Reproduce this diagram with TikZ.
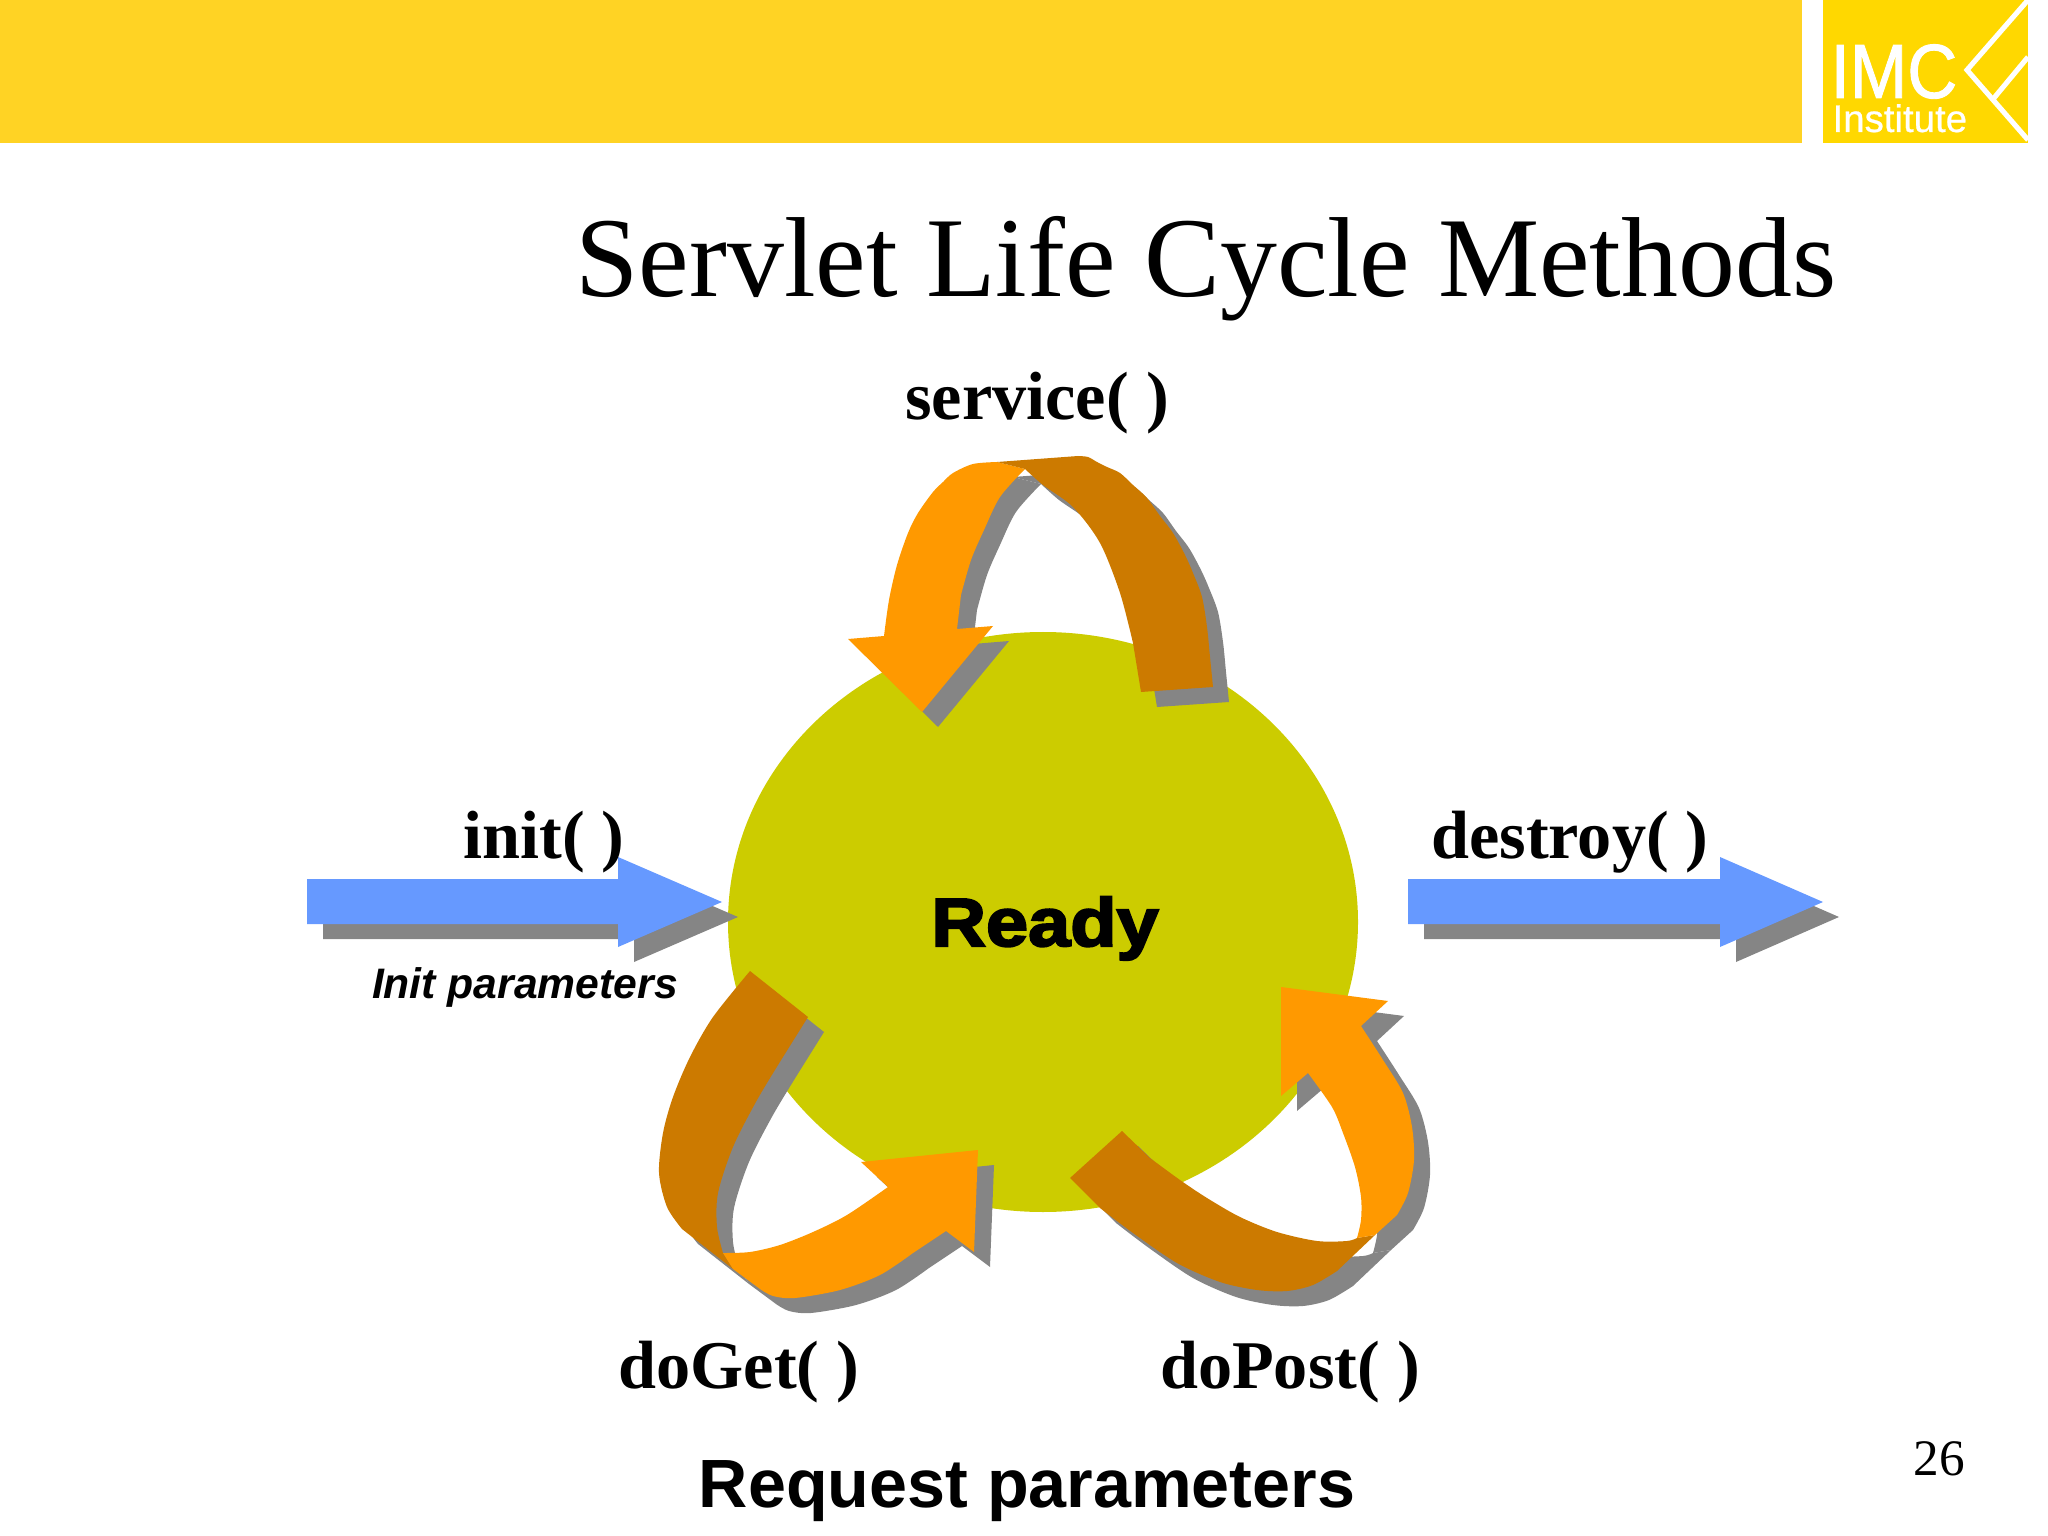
\documentclass[tikz,border=0pt]{standalone}
\usepackage{fontspec}
\setmainfont{Liberation Serif}
\setsansfont{Liberation Sans}
\newfontfamily\readyfont[FakeBold=3,FakeStretch=1.11]{Liberation Sans Bold}
\newfontfamily\logofont[FakeBold=1.2,FakeStretch=0.9]{Liberation Sans}
\newfontfamily\logosmall[FakeBold=0.6]{Liberation Sans}
\usepackage{tikz}
\usepackage{xcolor}
\definecolor{barcolor}{HTML}{FFD324}
\definecolor{logocolor}{HTML}{FFD800}
\definecolor{ballcolor}{HTML}{CCCC00}
\definecolor{bluecolor}{HTML}{6699FF}
\definecolor{lightarc}{HTML}{FF9900}
\definecolor{darkarc}{HTML}{CC7A00}
\definecolor{shadegrey}{HTML}{858585}
\newcommand{\ptsize}[1]{\fontsize{#1}{#1}\selectfont}
% the parts of the arrows, each drawn twice
\newcommand{\serviceleft}{plot[smooth] coordinates {(997,462) (973,464) (953,473) (943,482) (933,492) (918,513) (908,533) (897,565) (889,600) (884,636)} -- (848,639) -- (922,712) -- (993,626) -- (957,629) -- plot[smooth] coordinates {(961,595) (971,560) (984,530) (1000,497) (1025,469)} -- cycle}
\newcommand{\serviceright}{(997,462) -- plot[smooth] coordinates {(1078,456) (1088,457) (1097,462) (1107,467) (1120,473) (1133,485) (1147,498) (1160,516) (1173,533) (1185,555) (1193,573) (1202,597) (1207,627) (1210,657) (1213,687)} -- (1141,692) -- plot[smooth] coordinates {(1133,643) (1120,593) (1100,543) (1073,507) (1043,485) (1025,469)} -- cycle}
\newcommand{\getleft}{(808,1017) -- plot[smooth] coordinates {(783,1057) (757,1100) (733,1147) (718,1193) (717,1227) (723,1253)} -- (733,1269) -- plot[smooth] coordinates {(682,1229) (667,1207) (659,1173) (663,1133) (673,1097) (690,1057) (713,1017) (750,971)} -- cycle}
\newcommand{\getright}{plot[smooth] coordinates {(723,1253) (750,1252) (780,1245) (813,1232) (847,1215) (888,1187)} -- (861,1162) -- (978,1150) -- (974,1252) -- (946,1231) -- plot[smooth] coordinates {(913,1253) (880,1275) (840,1290) (795,1298) (773,1296) (760,1289)} -- (733,1269) -- cycle}
\newcommand{\postleft}{(1122,1131) -- (1070,1178) -- plot[smooth] coordinates {(1100,1208) (1133,1233) (1177,1263) (1220,1282) (1257,1290) (1287,1291) (1313,1285) (1337,1271)} -- (1375,1235) -- plot[smooth] coordinates {(1357,1238) (1347,1241) (1317,1241) (1277,1232) (1240,1217) (1207,1198) (1180,1180) (1150,1158)} -- cycle}
\newcommand{\postright}{plot[smooth] coordinates {(1357,1238) (1361,1220) (1361,1197) (1355,1167) (1343,1133) (1332,1107) (1308,1073)} -- (1281,1096) -- (1281,987) -- (1388,1001) -- plot[smooth] coordinates {(1361,1026) (1383,1060) (1403,1093) (1412,1127) (1414,1160) (1408,1193) (1397,1215)} -- (1375,1235) -- cycle}
\newcommand{\initarrow}{(307,879) -- (618,879) -- (618,857) -- (722,902) -- (618,947) -- (618,924) -- (307,924) -- cycle}
\newcommand{\destroyarrow}{(1408,879) -- (1720,879) -- (1720,857) -- (1823,902) -- (1720,947) -- (1720,924) -- (1408,924) -- cycle}
\tikzset{
  methodlabel/.style={anchor=base, inner sep=0pt, font=\ptsize{24}\bfseries},
  sidelabel/.style={anchor=base, inner sep=0pt, font=\sffamily\bfseries},
  shade/.style={fill=shadegrey, shift={(16,15)}}
}
\begin{document}
\begin{tikzpicture}[x=0.3515625pt, y=-0.3515625pt]
\useasboundingbox (0,0) rectangle (2048,1536);
% header
\fill[barcolor] (0,0) rectangle (1802,143);
\fill[logocolor] (1823,0) rectangle (2028,143);
\draw[white, line width=1.8pt] (2028,0) -- (1967,70) -- (2028,140);
\draw[white, line width=1.8pt] (1994,98) -- (2028,57);
\node[anchor=base west, inner sep=0pt, text=white, font=\logofont\ptsize{27}] (imc) at (1830,98) {IMC};
\node[anchor=base west, inner sep=0pt, text=white, font=\logosmall\ptsize{13.5}] (institute) at (1832,132) {Institute};
\node[anchor=base west, inner sep=0pt, font=\ptsize{40}] (title) at (575,297) {Servlet Life Cycle Methods};
% ball
\fill[ballcolor] (1043,922) ellipse (315 and 290);
% shadows
\fill[shade] \initarrow;
\fill[shade] \destroyarrow;
\fill[shade] \serviceleft;
\fill[shade] \serviceright;
\fill[shade] \getleft;
\fill[shade] \getright;
\fill[shade] \postleft;
\fill[shade] \postright;
% arrows
\fill[bluecolor] \initarrow;
\fill[bluecolor] \destroyarrow;
\fill[lightarc] \serviceleft;
\fill[darkarc] \serviceright;
\fill[darkarc] \getleft;
\fill[lightarc] \getright;
\fill[darkarc] \postleft;
\fill[lightarc] \postright;
% labels
\node[methodlabel] (service) at (1037,420) {service( )};
\node[methodlabel] (init) at (544,858) {init( )};
\node[methodlabel] (destroy) at (1570,858) {destroy( )};
\node[methodlabel] (doget) at (739,1388) {doGet( )};
\node[methodlabel] (dopost) at (1290,1388) {doPost( )};
\node[anchor=base, inner sep=0pt, font=\readyfont\ptsize{24}] (ready) at (1045,946) {Ready};
\node[sidelabel, font=\sffamily\bfseries\itshape\ptsize{15}] (initparam) at (525,998) {Init parameters};
\node[sidelabel, font=\sffamily\bfseries\ptsize{24}] (request) at (1027,1507) {Request parameters};
\node[anchor=base, inner sep=0pt, font=\ptsize{18}] (page) at (1939,1475) {26};
\end{tikzpicture}
\end{document}
